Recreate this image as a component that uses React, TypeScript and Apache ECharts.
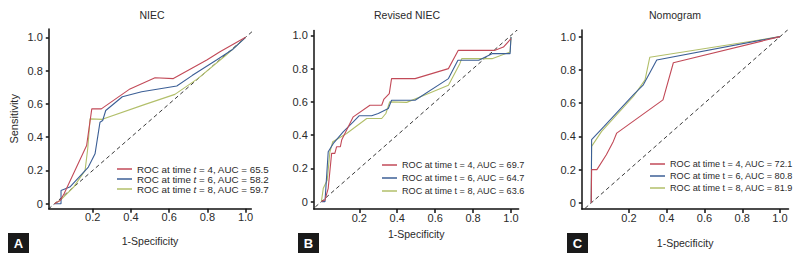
import React, { useEffect, useRef } from "react";
import * as echarts from "echarts";

// ---------- data ----------
const PANEL_TITLES = ["NIEC", "Revised NIEC", "Nomogram"];
const PANEL_LETTERS = ["A", "B", "C"];
const X_TICKS = [0.2, 0.4, 0.6, 0.8, 1.0];
const Y_TICKS = [0, 0.2, 0.4, 0.6, 0.8, 1.0];
const SERIES_COLORS = ["#c24a58", "#3c5f96", "#b2bf6a"];
const DIAGONAL = [[-0.06, -0.06], [1.06, 1.06]];

const A_NAMES = [
  "ROC at time t = 4, AUC = 65.5",
  "ROC at time t = 6, AUC = 58.2",
  "ROC at time t = 8, AUC = 59.7",
];
const A_T4 = [[0, 0], [0.03, 0.02], [0.05, 0.06], [0.168, 0.35], [0.195, 0.57], [0.245, 0.57], [0.395, 0.69], [0.526, 0.757], [0.622, 0.752], [0.797, 0.864], [0.866, 0.913], [1, 1]];
const A_T6 = [[0, 0], [0.034, 0.0], [0.034, 0.08], [0.08, 0.1], [0.177, 0.22], [0.212, 0.3], [0.238, 0.49], [0.252, 0.5], [0.268, 0.56], [0.355, 0.643], [0.456, 0.673], [0.64, 0.707], [0.72, 0.77], [0.85, 0.865], [0.93, 0.925], [1, 1]];
const A_T8 = [[0, 0], [0.03, 0.02], [0.1, 0.1], [0.16, 0.2], [0.174, 0.333], [0.186, 0.51], [0.25, 0.507], [0.474, 0.597], [0.63, 0.657], [0.75, 0.752], [0.9, 0.895], [1, 1]];

const B_NAMES = [
  "ROC at time t = 4, AUC = 69.7",
  "ROC at time t = 6, AUC = 64.7",
  "ROC at time t = 8, AUC = 63.6",
];
const B_T4 = [[0, 0], [0.019, 0.01], [0.036, 0.08], [0.054, 0.29], [0.071, 0.29], [0.08, 0.33], [0.1, 0.33], [0.107, 0.37], [0.168, 0.51], [0.256, 0.58], [0.318, 0.58], [0.33, 0.617], [0.358, 0.65], [0.37, 0.74], [0.494, 0.74], [0.67, 0.8], [0.722, 0.91], [0.916, 0.91], [0.96, 0.93], [1.0, 0.98]];
const B_T6 = [[0, 0], [0.019, 0], [0.036, 0.3], [0.063, 0.35], [0.115, 0.42], [0.168, 0.48], [0.2, 0.517], [0.265, 0.517], [0.3, 0.53], [0.353, 0.56], [0.37, 0.61], [0.494, 0.61], [0.67, 0.74], [0.72, 0.85], [0.83, 0.85], [0.9, 0.89], [0.995, 0.89], [1.0, 0.99]];
const B_T8 = [[0, 0], [0.01, 0.08], [0.031, 0.13], [0.045, 0.3], [0.06, 0.36], [0.133, 0.41], [0.239, 0.5], [0.318, 0.5], [0.34, 0.53], [0.36, 0.6], [0.45, 0.597], [0.52, 0.63], [0.67, 0.7], [0.73, 0.83], [0.74, 0.86], [0.9, 0.86], [0.995, 0.9], [1.0, 0.99]];

const C_NAMES = [
  "ROC at time t = 4, AUC = 72.1",
  "ROC at time t = 6, AUC = 80.8",
  "ROC at time t = 8, AUC = 81.9",
];
const C_T4 = [[0, 0], [0.002, 0.2], [0.03, 0.2], [0.08, 0.29], [0.117, 0.37], [0.135, 0.42], [0.38, 0.62], [0.435, 0.843], [1, 1]];
const C_T6 = [[0, 0], [0.002, 0.38], [0.068, 0.46], [0.223, 0.65], [0.276, 0.71], [0.347, 0.86], [1, 1]];
const C_T8 = [[0, 0], [0.002, 0.34], [0.055, 0.43], [0.223, 0.64], [0.285, 0.74], [0.31, 0.876], [1, 1]];

const PANEL_NAMES = [A_NAMES, B_NAMES, C_NAMES];
const PANEL_DATA = [
  [A_T4, A_T6, A_T8],
  [B_T4, B_T6, B_T8],
  [C_T4, C_T6, C_T8],
];

// ---------- layout ----------
const FONT = "'Liberation Sans', Arial, sans-serif";
const TEXT_COLOR = "#2a2a2a";
const GRIDS = [
  { left: 48.8, top: 29.0, width: 202.5, height: 179.7, xMin: -0.03, xMax: 1.03, yMin: -0.03, yMax: 1.05, nameGap: 27, titleX: 152, boxX: 8 },
  { left: 313.8, top: 30.4, width: 204.8, height: 178.7, xMin: -0.04, xMax: 1.04, yMin: -0.045, yMax: 1.03, nameGap: 19, titleX: 407, boxX: 298 },
  { left: 581.8, top: 30.0, width: 206.7, height: 179.05, xMin: -0.05, xMax: 1.045, yMin: -0.037, yMax: 1.04, nameGap: 28, titleX: 675, boxX: 567 },
];
const LEGENDS = [
  { left: 117, top: 164, gap: 0, size: 9.8 },
  { left: 382, top: 160, gap: 3, size: 9.1 },
  { left: 650, top: 159, gap: 2, size: 9.1 },
];

function fmt(v: number) {
  return v === 0 ? "0" : v.toFixed(1);
}

export default function App() {
  const ref = useRef<HTMLDivElement>(null);
  useEffect(() => {
    if (!ref.current) return;
    const chart = echarts.init(ref.current, null, { renderer: "svg" });
    const axisLine = { show: true, onZero: false, lineStyle: { color: "#111", width: 1.5 } };
    const series: any[] = [];
    PANEL_DATA.forEach((sets, p) => {
      series.push({
        type: "line",
        name: "diag" + p,
        xAxisIndex: p,
        yAxisIndex: p,
        data: DIAGONAL,
        symbol: "none",
        clip: true,
        silent: true,
        lineStyle: { color: "#222", width: 0.9, type: [4, 3] },
        z: 1,
      });
      sets.forEach((d, k) => {
        series.push({
          type: "line",
          name: PANEL_NAMES[p][k],
          xAxisIndex: p,
          yAxisIndex: p,
          data: d,
          symbol: "none",
          clip: true,
          color: SERIES_COLORS[k],
          itemStyle: { color: SERIES_COLORS[k] },
          lineStyle: { color: SERIES_COLORS[k], width: 1.1 },
          z: 3 - k + 2,
        });
      });
    });
    const option: any = {
      animation: false,
      backgroundColor: "#ffffff",
      textStyle: { fontFamily: FONT },
      title: GRIDS.map((g, i) => ({
        text: PANEL_TITLES[i],
        left: g.titleX,
        top: 9,
        padding: 0,
        textAlign: "center",
        textStyle: { fontSize: 10.5, fontWeight: "normal", color: TEXT_COLOR, fontFamily: FONT },
      })),
      grid: GRIDS.map((g) => ({
        left: g.left,
        top: g.top,
        width: g.width,
        height: g.height,
        containLabel: false,
        outerBoundsMode: "none",
      })),
      xAxis: GRIDS.map((g, i) => ({
        type: "value",
        gridIndex: i,
        min: g.xMin,
        max: g.xMax,
        axisLine,
        axisTick: { show: true, customValues: X_TICKS, length: 4, lineStyle: { color: "#111", width: 1.5 } },
        axisLabel: { customValues: X_TICKS, formatter: (v: number) => fmt(v), margin: 3, fontSize: 11, color: TEXT_COLOR, fontFamily: FONT },
        splitLine: { show: false },
        name: "1-Specificity",
        nameLocation: "middle",
        nameGap: g.nameGap,
        nameTextStyle: { fontSize: 10.5, color: TEXT_COLOR, fontFamily: FONT },
      })),
      yAxis: GRIDS.map((g, i) => ({
        type: "value",
        gridIndex: i,
        min: g.yMin,
        max: g.yMax,
        axisLine,
        axisTick: { show: true, customValues: Y_TICKS, length: 3, lineStyle: { color: "#111", width: 1.5 } },
        axisLabel: { customValues: Y_TICKS, formatter: (v: number) => fmt(v), margin: 6, fontSize: 11, color: TEXT_COLOR, fontFamily: FONT },
        splitLine: { show: false },
        name: i === 0 ? "Sensitivity" : "",
        nameLocation: "middle",
        nameGap: 29,
        nameTextStyle: { fontSize: 11, color: TEXT_COLOR, fontFamily: FONT },
      })),
      legend: LEGENDS.map((l, i) => ({
        data: PANEL_NAMES[i],
        orient: "vertical",
        left: l.left,
        top: l.top,
        padding: 0,
        icon: "rect",
        itemWidth: 15,
        itemHeight: 1.5,
        itemGap: l.gap,
        selectedMode: false,
        formatter: i === 0 ? (n: string) => n.replace(" t = ", " {i|t} = ") : undefined,
        textStyle: {
          fontSize: l.size,
          lineHeight: 10,
          color: TEXT_COLOR,
          fontFamily: FONT,
          rich: { i: { fontStyle: "italic", fontSize: l.size, lineHeight: 10, color: TEXT_COLOR, fontFamily: FONT } },
        },
      })),
      graphic: GRIDS.flatMap((g, i) => [
        { type: "rect", left: g.boxX, top: 233, shape: { width: 21, height: 20 }, style: { fill: "#1a1a1a" } },
        {
          type: "text",
          x: g.boxX + 10.5,
          y: 243.5,
          style: { text: PANEL_LETTERS[i], fill: "#ffffff", fontSize: 13, fontWeight: "bold", fontFamily: FONT, textAlign: "center", textVerticalAlign: "middle" },
        },
      ]),
      series,
    };
    chart.setOption(option);
    return () => chart.dispose();
  }, []);
  return (
    <div
      ref={ref}
      style={{ position: "fixed", left: 0, top: 0, width: 799, height: 259, background: "#fff" }}
    />
  );
}
